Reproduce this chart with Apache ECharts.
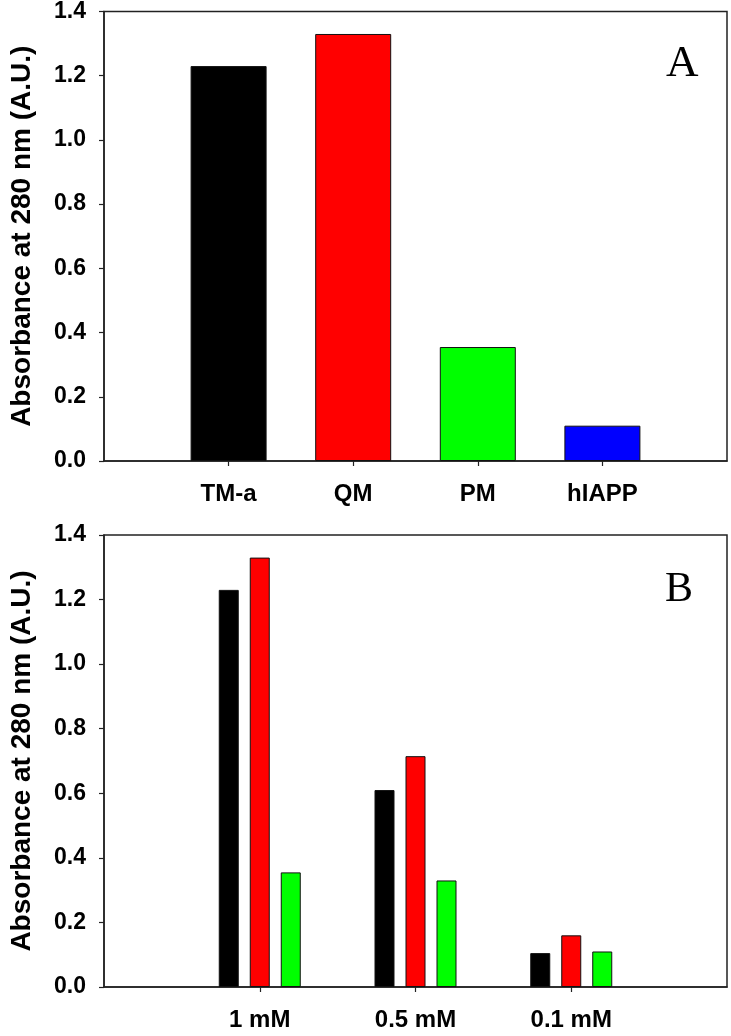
<!DOCTYPE html>
<html>
<head>
<meta charset="utf-8">
<script src="https://cdn.jsdelivr.net/npm/echarts@6/dist/echarts.min.js"></script>
<style>
html,body{margin:0;padding:0;background:#fff;}
#c{width:731px;height:1036px;}
</style>
</head>
<body>
<div id="c"></div>
<script>
// Panel A
const catsA = ['TM-a', 'QM', 'PM', 'hIAPP'];
const valsA = [1.23, 1.33, 0.355, 0.11];
const colorsA = ['#000000', '#ff0000', '#00ff00', '#0000ff'];
// Panel B
const catsB = ['1 mM', '0.5 mM', '0.1 mM'];
const seriesB_black = [1.23, 0.61, 0.105];
const seriesB_red = [1.33, 0.715, 0.16];
const seriesB_green = [0.355, 0.33, 0.11];
const yTicks = [0, 0.2, 0.4, 0.6, 0.8, 1.0, 1.2, 1.4];
const yTitle = 'Absorbance at 280 nm (A.U.)';

const font = "'Liberation Sans', Arial, sans-serif";
const lineColor = '#222';

function xAxisFor(cats, gridIndex) {
  const pos = cats.map((_, i) => i + 1);
  return {
    type: 'value', gridIndex: gridIndex, min: 0, max: cats.length + 1, interval: 1,
    axisLine: {show: true, lineStyle: {color: lineColor, width: 1.5}},
    axisTick: {show: true, length: 5, customValues: pos, lineStyle: {color: lineColor, width: 1.2}},
    axisLabel: {customValues: pos, formatter: v => cats[Math.round(v) - 1] || '', margin: 21,
      fontFamily: font, fontWeight: 'bold', fontSize: 24, color: '#000'},
    splitLine: {show: false}
  };
}
function yAxisFor(gridIndex) {
  return {
    type: 'value', gridIndex: gridIndex, min: yTicks[0], max: yTicks[yTicks.length - 1], interval: 0.2,
    axisLine: {show: true, lineStyle: {color: lineColor, width: 1.5}},
    axisTick: {show: true, length: 5, lineStyle: {color: lineColor, width: 1.2}},
    axisLabel: {formatter: v => v.toFixed(1), margin: 18, fontFamily: font, fontWeight: 'bold', fontSize: 23, color: '#000'},
    splitLine: {show: false},
    name: yTitle, nameLocation: 'middle', nameRotate: 90, nameGap: 68,
    nameTextStyle: {fontFamily: font, fontWeight: 'bold', fontSize: 28, color: '#000'}
  };
}

const barBorder = {borderColor: '#111', borderWidth: 1};

const option = {
  animation: false,
  backgroundColor: '#fff',
  grid: [
    {left: 101, right: 4, top: 10, height: 451, show: true, borderColor: lineColor, borderWidth: 1.5},
    {left: 101, right: 4, top: 535, height: 452, show: true, borderColor: lineColor, borderWidth: 1.5}
  ],
  xAxis: [xAxisFor(catsA, 0), xAxisFor(catsB, 1)],
  yAxis: [yAxisFor(0), yAxisFor(1)],
  graphic: [
    {type: 'text', left: 666, top: 42, style: {text: 'A', fontFamily: "'Liberation Serif', 'Times New Roman', serif", fontSize: 45, fill: '#000'}},
    {type: 'text', left: 665, top: 569, style: {text: 'B', fontFamily: "'Liberation Serif', 'Times New Roman', serif", fontSize: 42, fill: '#000'}}
  ],
  series: [
    {type: 'bar', xAxisIndex: 0, yAxisIndex: 0, barWidth: 76,
      data: valsA.map((v, i) => ({value: [i + 1, v], itemStyle: Object.assign({color: colorsA[i]}, barBorder)}))},
    {type: 'bar', xAxisIndex: 1, yAxisIndex: 1, barWidth: 20, barGap: '55%',
      itemStyle: Object.assign({color: '#000000'}, barBorder), data: seriesB_black.map((v, i) => [i + 1, v])},
    {type: 'bar', xAxisIndex: 1, yAxisIndex: 1, barWidth: 20, barGap: '55%',
      itemStyle: Object.assign({color: '#ff0000'}, barBorder), data: seriesB_red.map((v, i) => [i + 1, v])},
    {type: 'bar', xAxisIndex: 1, yAxisIndex: 1, barWidth: 20, barGap: '55%',
      itemStyle: Object.assign({color: '#00ff00'}, barBorder), data: seriesB_green.map((v, i) => [i + 1, v])}
  ]
};
const chart = echarts.init(document.getElementById('c'), null, {renderer: 'canvas'});
chart.setOption(option);
</script>
</body>
</html>
